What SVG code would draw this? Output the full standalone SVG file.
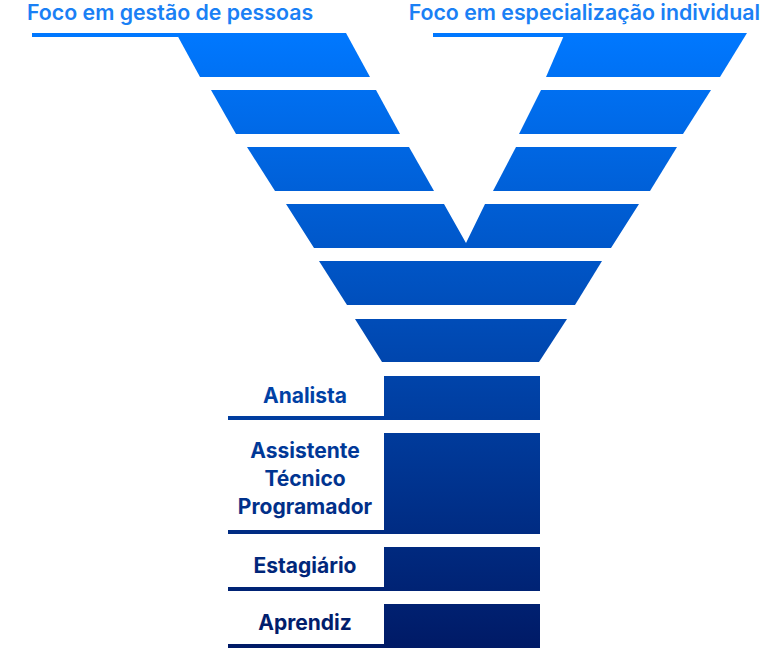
<svg xmlns="http://www.w3.org/2000/svg" width="771" height="648" viewBox="0 0 771 648">
  <defs>
    <linearGradient id="g" gradientUnits="userSpaceOnUse" x1="0" y1="33" x2="0" y2="648">
      <stop offset="0" stop-color="#0078FF"/>
      <stop offset="1" stop-color="#001A66"/>
    </linearGradient>
    <style>
      .band { fill: url(#g); }
      .title { font-family: Inter, "Liberation Sans", sans-serif; font-weight: 600; font-size: 21.3px; fill: #1A80F5; }
      .label { font-family: Inter, "Liberation Sans", sans-serif; font-weight: 700; font-size: 21px; fill: url(#g); text-anchor: middle; }
    </style>
  </defs>
  <rect width="771" height="648" fill="#FFFFFF"/>

  <g id="title-left"><text class="title" x="27" y="20">Foco em gestão de pessoas</text></g>
  <g id="title-right"><text class="title" x="760" y="20" text-anchor="end">Foco em especialização individual</text></g>

  <g id="connectors">
    <rect class="band" x="32" y="33" width="146" height="4"/>
    <rect class="band" x="433" y="33" width="134" height="4"/>
    <rect class="band" x="228" y="416" width="158" height="4"/>
    <rect class="band" x="228" y="530" width="158" height="4"/>
    <rect class="band" x="228" y="587" width="158" height="4"/>
    <rect class="band" x="228" y="644" width="158" height="4"/>
  </g>

  <g id="band1-left"><polygon class="band" points="176,33 346,33 370,77 200,77"/></g>
  <g id="band1-right"><polygon class="band" points="565,33 747,33 720,77 546,77"/></g>
  <g id="band2-left"><polygon class="band" points="211,90 376,90 400,134 236,134"/></g>
  <g id="band2-right"><polygon class="band" points="541,90 711,90 683,134 519,134"/></g>
  <g id="band3-left"><polygon class="band" points="247,147 409,147 434,191 275,191"/></g>
  <g id="band3-right"><polygon class="band" points="516,147 677,147 650,191 493,191"/></g>
  <g id="band4"><polygon class="band" points="286,204 444,204 466,243 485,204 639,204 611,248 314,248"/></g>
  <g id="band5"><polygon class="band" points="319,261 602,261 575,305 347,305"/></g>
  <g id="band6"><polygon class="band" points="355,319 567,319 539,362 382,362"/></g>

  <g id="analista">
    <rect class="band" x="384" y="376" width="156" height="44"/>
    <text class="label" x="305" y="403">Analista</text>
  </g>
  <g id="assistente">
    <rect class="band" x="384" y="433" width="156" height="101"/>
    <text class="label" x="305" y="458">Assistente</text>
    <text class="label" x="305" y="486">Técnico</text>
    <text class="label" x="305" y="514">Programador</text>
  </g>
  <g id="estagiario">
    <rect class="band" x="384" y="547" width="156" height="44"/>
    <text class="label" x="305" y="573">Estagiário</text>
  </g>
  <g id="aprendiz">
    <rect class="band" x="384" y="604" width="156" height="44"/>
    <text class="label" x="305" y="630">Aprendiz</text>
  </g>
</svg>
